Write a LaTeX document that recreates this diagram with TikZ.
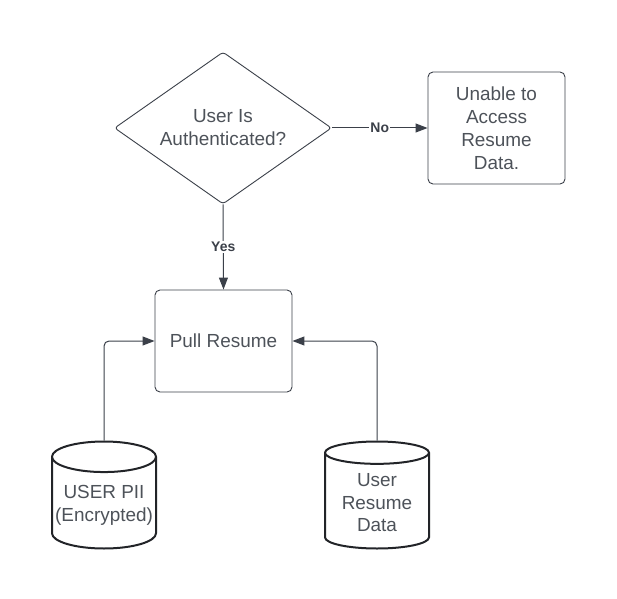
\documentclass[tikz,border=0pt]{standalone}
\usepackage{fontspec}
\setmainfont{Liberation Sans}
\usetikzlibrary{shapes.geometric,arrows.meta}
\definecolor{linegray}{HTML}{3B4049}
\definecolor{txtgray}{HTML}{4D5259}
\definecolor{dbline}{HTML}{222428}

\begin{document}
\begin{tikzpicture}[x=1bp,y=-1bp,
		txt/.style={font=\fontsize{19}{23}\selectfont, text=txtgray, align=center},
		box/.style={txt, draw=linegray, line width=0.9bp, rounded corners=5bp, inner sep=0pt},
		decision/.style={txt, diamond, aspect=1.43, draw=linegray, line width=0.9bp, rounded corners=3bp, inner sep=0pt, minimum width=217bp, minimum height=152bp},
		store/.style={txt, cylinder, shape border rotate=90, aspect=0.3, draw=dbline, line width=2bp, minimum width=104bp, minimum height=107bp, inner sep=2bp, anchor=shape center},
		flow/.style={-{Triangle[length=12bp,width=9bp]}, draw=linegray, line width=1bp},
		tag/.style={font=\fontsize{14}{16}\selectfont\bfseries, text=linegray, fill=white, inner sep=1bp}]
		\useasboundingbox (0,0) rectangle (617,599);
		\node[decision] (auth) at (223,128) {User Is\\Authenticated?};
		\node[box, minimum width=137bp, minimum height=112bp] (deny) at (496.5,128) {Unable to\\Access\\Resume\\Data.};
		\node[box, minimum width=137bp, minimum height=102bp] (pull) at (223.5,341) {Pull Resume};
		\node[store] (pii) at (104,495) {USER PII\\(Encrypted)};
		\node[store] (resume) at (377,495) {User\\Resume\\Data};
		\draw[flow] (auth.east) -- node[tag]{No} (deny.west);
		\draw[flow] (auth.south) -- node[tag]{Yes} (pull.north);
		\draw[flow, rounded corners=5bp] (pii.north) |- (pull.west);
		\draw[flow, rounded corners=5bp] (resume.north) |- (pull.east);
\end{tikzpicture}
\end{document}
